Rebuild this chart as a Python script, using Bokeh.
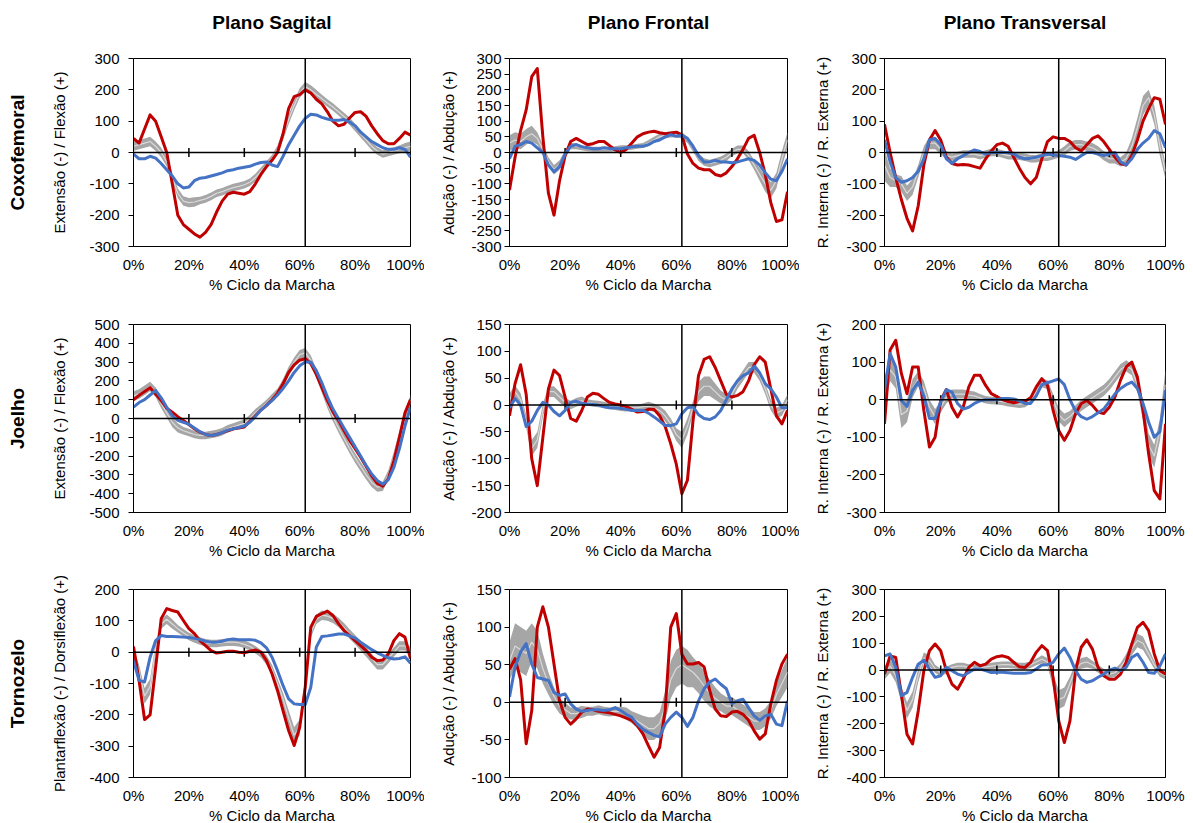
import numpy as np
from bokeh.plotting import figure
from bokeh.models import Range1d, FixedTicker, LinearAxis, Span
from bokeh.layouts import column, row
from bokeh.embed import file_html
from bokeh.resources import INLINE

# ---------------- data ----------------
gait_pct = list(range(0, 101, 2))
x_ticks = [0, 20, 40, 60, 80, 100]
x_tick_labels = ["0%", "20%", "40%", "60%", "80%", "100%"]
zero_axis_ticks = [20, 40, 60, 80]
toe_off_pct = 62

plane_titles = ["Plano Sagital", "Plano Frontal", "Plano Transversal"]
joint_names = ["Coxofemoral", "Joelho", "Tornozelo"]
y_axis_titles = [
    ["Extensão (-) / Flexão (+)", "Adução (-) / Abdução (+)", "R. Interna (-) / R. Externa (+)"],
    ["Extensão (-) / Flexão (+)", "Adução (-) / Abdução (+)", "R. Interna (-) / R. Externa (+)"],
    ["Plantarflexão (-) / Dorsiflexão (+)", "Adução (-) / Abdução (+)", "R. Interna (-) / R. Externa (+)"],
]
y_limits = [
    [(-300, 300), (-300, 300), (-300, 300)],
    [(-500, 500), (-200, 150), (-300, 200)],
    [(-400, 200), (-100, 150), (-400, 300)],
]
y_steps = [[100, 50, 100], [100, 50, 100], [100, 50, 100]]

# Coxofemoral
hip_sag_red = [45,30,75,120,100,50,0,-100,-200,-230, -245,-260,-270,-255,-230,-190,-155,-133,-127,-130,
               -133,-125,-100,-70,-45,-25,0,60,140,178, 185,200,190,170,155,130,100,85,90,110,
               128,130,115,85,60,38,28,28,45,65, 55]
hip_sag_blue = [-5,-20,-20,-12,-18,-35,-55,-75,-100,-113, -110,-90,-82,-80,-75,-70,-65,-58,-55,-50,
                -47,-44,-37,-32,-30,-40,-45,-12,25,55, 85,109,122,120,112,107,103,103,105,97,
                85,65,50,35,25,15,10,10,15,10, -15]
hip_sag_mean = [20,25,30,35,20,0,-30,-80,-130,-155, -160,-158,-153,-148,-140,-130,-125,-118,-112,-108,
                -103,-95,-80,-60,-40,-20,10,55,105,150, 190,210,200,185,172,158,145,130,115,100,
                80,60,40,20,5,-5,0,5,10,15, 20]
hip_sag_sd = [15,15,15,15,15,15,15,15,15,15, 15,15,12,12,12,12,12,12,12,12,
              12,12,12,12,12,12,12,15,15,15, 15,15,15,15,12,12,12,12,12,12,
              12,12,12,12,12,12,12,12,12,15, 15]

hip_front_red = [-120,-15,70,136,242,268,50,-130,-200,-90, -10,35,45,35,25,28,35,35,22,8,
                 0,10,30,50,60,65,68,63,60,62, 65,55,-5,-35,-50,-55,-55,-70,-75,-65,
                 -45,-20,10,45,55,0,-70,-160,-220,-215, -125]
hip_front_blue = [-20,20,25,35,30,15,0,-40,-62,-45, -5,20,25,18,15,12,12,15,13,12,
                  12,15,18,20,20,25,35,40,50,57, 52,55,45,20,-10,-30,-30,-25,-30,-30,
                  -33,-30,-25,-20,-25,-40,-65,-85,-90,-60, -20]
hip_front_mean = [30,40,35,50,60,45,10,-30,-55,-40, -5,20,20,15,12,10,10,10,10,12,
                  15,15,17,20,22,30,40,50,55,58, 58,55,40,15,-15,-30,-35,-30,-25,-15,
                  0,10,10,-10,-40,-70,-100,-120,-90,-20, 40]
hip_front_sd = [25,25,25,25,25,20,15,15,15,15, 12,10,10,8,8,8,8,8,8,8,
                8,8,8,8,8,10,10,10,10,10, 10,10,10,12,12,12,12,12,12,12,
                12,12,12,15,15,20,25,25,25,25, 25]

hip_trans_red = [90,0,-80,-150,-210,-250,-170,-40,40,70, 40,-14,-35,-40,-38,-40,-45,-50,-20,5,
                 25,30,20,-15,-50,-80,-100,-80,-20,35, 50,45,45,35,15,5,25,45,53,35,
                 10,-15,-35,-40,-10,40,100,140,175,170, 90]
hip_trans_blue = [40,-30,-80,-95,-90,-80,-60,-20,40,45, 25,-20,-35,-20,-10,0,8,3,-5,0,
                  0,0,0,-5,-15,-20,-18,-15,-10,-5, -8,-10,-12,-15,-22,-10,0,0,-5,-10,
                  -5,0,-30,-40,-20,10,30,45,70,60, 15]
hip_trans_mean = [-40,-80,-90,-100,-130,-110,-60,0,30,30, 10,-10,-15,-10,-5,-5,-5,-10,-5,0,
                  0,-5,-10,-10,-12,-15,-20,-20,-15,-15, -10,-5,5,20,25,25,20,15,5,-10,
                  -20,-20,-30,-20,20,80,150,175,120,20, -60]
hip_trans_sd = [50,30,20,25,25,25,20,20,20,20, 15,15,12,12,12,12,12,12,12,12,
                12,12,12,12,12,12,12,12,12,12, 12,12,15,15,15,15,15,15,15,15,
                15,15,15,20,25,30,30,25,30,30, 25]

# Joelho
knee_sag_red = [100,123,144,164,130,95,55,34,10,-10, -32,-55,-73,-85,-90,-85,-75,-65,-55,-50,
                -45,-15,15,45,70,100,135,185,245,285, 310,318,292,235,165,95,35,-10,-65,-117,
                -160,-206,-255,-305,-345,-360,-320,-224,-100,30, 100]
knee_sag_blue = [60,85,100,125,150,110,60,15,-10,-20, -30,-50,-70,-85,-90,-85,-75,-62,-55,-48,
                 -40,-20,10,45,70,95,125,160,200,245, 280,300,300,255,190,115,50,0,-50,-100,
                 -150,-200,-250,-295,-330,-350,-325,-260,-160,-40, 60]
knee_sag_mean = [120,130,150,170,140,80,30,-20,-50,-65, -75,-85,-90,-90,-85,-80,-70,-55,-45,-35,
                 -25,0,30,55,80,110,140,190,250,300, 340,350,310,240,160,80,10,-50,-105,-160,
                 -210,-255,-300,-340,-365,-360,-300,-200,-90,20, 100]
knee_sag_sd = [25,25,25,25,25,25,25,25,25,20, 20,20,20,20,20,20,20,20,20,20,
               20,20,20,20,20,20,20,20,25,25, 25,25,25,25,25,25,25,25,25,25,
               25,25,25,25,25,25,25,25,25,25, 25]

knee_front_red = [-20,40,75,20,-100,-150,-60,30,65,55, 15,-25,-30,-10,15,22,20,12,5,2,
                  0,-3,-8,-13,-12,-8,-8,-20,-40,-72, -110,-165,-140,-30,55,85,90,70,45,20,
                  15,18,25,45,75,90,80,30,-20,-35, -10]
knee_front_blue = [-5,12,0,-40,-30,-10,5,0,-12,-20, -10,5,7,3,2,1,0,-3,-5,-5,
                   -6,-8,-10,-10,-10,-15,-22,-30,-38,-38, -35,-16,-5,-3,-18,-25,-27,-22,-10,10,
                   30,45,55,60,72,60,40,30,15,-5, -5]
knee_front_mean = [10,25,10,-30,-80,-65,-10,25,25,15, 5,0,5,8,5,3,2,0,-2,-3,
                   -5,-6,-5,-5,-3,-2,-5,-10,-20,-35, -55,-65,-40,-5,25,35,35,25,15,10,
                   20,40,55,70,70,55,30,0,-15,-10, 10]
knee_front_sd = [12,12,12,12,15,15,12,10,10,10, 8,8,8,8,6,6,6,6,6,6,
                 6,6,6,6,6,8,8,8,10,10, 12,15,15,12,18,18,18,15,12,10,
                 10,10,10,10,10,10,10,10,10,10, 10]

knee_trans_red = [-64,132,158,70,16,87,87,-28,-126,-100, -2,27,-20,-46,-20,34,65,65,38,16,
                  8,0,-5,-8,-5,-4,5,34,56,38, -28,-82,-108,-82,-37,-11,-2,-15,-33,-37,
                  -20,7,52,87,100,60,-28,-144,-242,-264, -64]
knee_trans_blue = [25,123,87,-2,-18,25,47,10,-50,-50, -5,27,20,-10,-25,-20,-10,-3,0,0,
                   0,3,3,2,-3,-10,-10,10,40,45, 50,55,40,0,-30,-45,-52,-45,-35,-25,
                   -5,15,30,40,47,30,-10,-60,-100,-85, 25]
knee_trans_mean = [20,80,60,-40,-30,30,55,30,-20,-45, -20,5,15,15,15,12,10,5,0,-2,
                   -3,-5,-8,-10,-12,-10,0,20,45,40, 0,-40,-55,-45,-30,-15,-5,5,15,25,
                   40,60,80,90,80,40,-30,-120,-150,-80, 40]
knee_trans_sd = [40,30,30,35,30,25,20,20,20,20, 15,15,12,12,12,12,12,10,10,10,
                 10,10,10,10,10,10,10,12,12,12, 15,18,18,15,15,15,15,15,15,15,
                 15,15,15,15,15,20,25,30,30,30, 40]

# Tornozelo
ankle_sag_red = [18,-90,-215,-200,-48,107,139,133,128,101, 75,59,37,21,5,-3,0,3,3,0,
                 -2,3,7,0,-27,-69,-123,-187,-250,-298, -240,-112,80,114,123,131,117,91,69,53,
                 37,21,5,-16,-27,-25,-5,37,59,48, -21]
ankle_sag_blue = [-27,-90,-95,-16,37,53,50,50,49,48, 47,44,40,35,32,32,35,40,42,40,
                  40,40,38,30,14,-16,-59,-107,-149,-165, -167,-167,-112,16,50,52,55,58,58,52,
                  45,32,20,8,-2,-10,-18,-22,-20,-15, -35]
ankle_sag_mean = [0,-60,-140,-110,10,90,105,90,75,62, 50,42,36,30,28,28,30,32,32,30,
                  25,18,8,-5,-25,-55,-100,-150,-210,-265, -240,-100,60,105,118,115,108,95,78,58,
                  40,20,0,-20,-40,-40,-20,0,20,20, 0]
ankle_sag_sd = [15,20,25,25,20,15,15,15,12,12, 12,12,12,12,12,12,12,12,12,12,
                12,12,12,12,15,15,15,20,25,25, 25,20,15,15,15,15,15,15,15,15,
                15,15,15,15,15,15,15,15,15,15, 15]

ankle_front_red = [44,58,30,-55,-11,100,127,100,51,2, -20,-29,-22,-13,-9,-10,-12,-13,-14,-16,
                   -18,-21,-24,-31,-42,-58,-73,-60,-11,100, 118,64,51,51,53,47,16,-9,-18,-19,
                   -13,-12,-16,-24,-38,-49,-42,-2,29,51, 64]
ankle_front_blue = [7,47,67,78,51,33,31,29,13,9, 11,-2,-9,-12,-11,-10,-10,-11,-10,-7,
                    -11,-16,-20,-29,-36,-40,-44,-46,-29,-20, -13,-20,-32,-20,2,18,27,31,24,18,
                    -2,2,4,-7,-18,-24,-18,-16,-29,-31, 2]
ankle_front_mean = [55,75,70,65,80,70,45,25,8,-5, -10,-15,-15,-13,-12,-12,-10,-12,-13,-12,
                    -12,-15,-20,-25,-30,-35,-35,-28,-5,30, 45,50,45,40,32,22,12,5,0,-5,
                    -5,-10,-15,-20,-25,-25,-20,-10,10,25, 40]
ankle_front_sd = [25,30,30,30,25,25,20,15,12,10, 10,8,8,8,6,6,6,6,6,6,
                  6,8,8,10,12,15,15,15,20,25, 25,25,25,20,20,20,18,15,12,12,
                  12,12,12,12,12,12,12,12,15,18, 20]

ankle_trans_red = [-15,53,47,-90,-239,-275,-152,-2,72,97, 72,-2,-52,-71,-34,10,29,16,22,41,
                   50,53,47,29,12,10,29,66,91,72, -27,-189,-270,-189,-2,85,113,78,10,-21,
                   -34,-34,-15,29,97,159,178,147,60,-2, -15]
ankle_trans_blue = [53,60,10,-95,-83,-27,22,37,4,-27, -21,10,-2,-15,-21,-9,4,4,-2,-9,
                    -8,-8,-10,-12,-12,-12,-9,4,19,20, 29,60,82,47,-2,-34,-46,-40,-27,-15,
                    0,7,-2,10,47,60,29,-9,-12,16, 60]
ankle_trans_mean = [-10,15,-20,-90,-150,-110,-20,45,35,5, -10,0,10,15,15,10,8,10,12,15,
                    18,20,20,18,15,15,20,30,40,30, -40,-110,-100,-50,5,25,30,20,5,-10,
                    -15,-10,10,40,80,110,100,60,20,-10, -20]
ankle_trans_sd = [25,25,25,30,30,30,25,20,20,15, 15,12,12,12,12,12,12,12,12,12,
                  12,12,12,12,12,12,12,12,15,15, 25,35,35,25,20,20,20,15,15,15,
                  15,15,15,20,25,25,25,20,15,15, 15]

panel_data = [
    [(hip_sag_red, hip_sag_blue, hip_sag_mean, hip_sag_sd),
     (hip_front_red, hip_front_blue, hip_front_mean, hip_front_sd),
     (hip_trans_red, hip_trans_blue, hip_trans_mean, hip_trans_sd)],
    [(knee_sag_red, knee_sag_blue, knee_sag_mean, knee_sag_sd),
     (knee_front_red, knee_front_blue, knee_front_mean, knee_front_sd),
     (knee_trans_red, knee_trans_blue, knee_trans_mean, knee_trans_sd)],
    [(ankle_sag_red, ankle_sag_blue, ankle_sag_mean, ankle_sag_sd),
     (ankle_front_red, ankle_front_blue, ankle_front_mean, ankle_front_sd),
     (ankle_trans_red, ankle_trans_blue, ankle_trans_mean, ankle_trans_sd)],
]
for rr in panel_data:
    for cc in rr:
        for arr in cc:
            assert len(arr) == len(gait_pct), len(arr)

# ---------------- style / layout ----------------
FONT = "Liberation Sans"
RED = "#C00000"
BLUE = "#4472C4"
BAND = "#A6A6A6"
BAND_MID = "#D9D9D9"

frame_w = [277, 278, 281]
frame_h = 188
border_left = [133, 85, 85]
border_right = [14, 12, 20]
border_top = [58, 20, 20]
border_bottom = [58, 57, 45]
ylab_standoff = [9, 3, 3]
ytitle_standoff = [18, 11, 12]


def label_axis(text, standoff):
    return LinearAxis(axis_label=text, ticker=FixedTicker(ticks=[]),
                      axis_line_color=None, major_tick_line_color=None,
                      minor_tick_line_color=None, major_tick_out=0, major_tick_in=0,
                      minor_tick_out=0, minor_tick_in=0, major_label_standoff=0,
                      axis_label_standoff=standoff, axis_label_text_font=FONT,
                      axis_label_text_font_size="19px",
                      axis_label_text_font_style="bold",
                      axis_label_text_color="black")


def make_panel(r, c):
    red, blue, mean, sd = panel_data[r][c]
    lo, hi = y_limits[r][c]
    p = figure(frame_width=frame_w[c], frame_height=frame_h,
               x_range=Range1d(0, 100), y_range=Range1d(lo, hi),
               output_backend="svg", toolbar_location=None, title=None,
               min_border_left=border_left[c], min_border_right=border_right[c],
               min_border_top=border_top[r], min_border_bottom=border_bottom[r],
               background_fill_color="white", border_fill_color="white")
    p.outline_line_color = "black"
    p.outline_line_width = 1
    p.xgrid.visible = False
    p.ygrid.visible = False

    m = np.array(mean, dtype=float)
    s = np.array(sd, dtype=float)
    p.varea(x=gait_pct, y1=m - s, y2=m + s, fill_color=BAND)
    p.line(x=gait_pct, y=mean, line_color=BAND_MID, line_width=1.2)

    p.add_layout(Span(location=0, dimension="width", line_color="black", line_width=1.5))
    p.add_layout(Span(location=toe_off_pct, dimension="height", line_color="black", line_width=1.5))
    p.scatter(x=zero_axis_ticks, y=[0] * len(zero_axis_ticks), marker="dash",
              angle=np.pi / 2, size=9, line_color="black", line_width=1.5)

    p.line(x=gait_pct, y=red, line_color=RED, line_width=3, line_join="round")
    p.line(x=gait_pct, y=blue, line_color=BLUE, line_width=3, line_join="round")

    xa = p.xaxis[0]
    xa.ticker = FixedTicker(ticks=x_ticks)
    xa.major_label_overrides = dict(zip(x_ticks, x_tick_labels))
    xa.major_tick_out = 0
    xa.major_tick_in = 0
    xa.major_tick_line_color = None
    xa.minor_tick_line_color = None
    xa.major_label_standoff = 9
    xa.axis_label = "% Ciclo da Marcha"
    xa.axis_label_standoff = 0
    xa.axis_line_color = "black"

    ticks = list(range(lo, hi + 1, y_steps[r][c]))
    ya = p.yaxis[0]
    ya.ticker = FixedTicker(ticks=ticks)
    ya.major_label_overrides = {t: str(t) for t in ticks}
    ya.major_tick_out = 5
    ya.major_tick_in = 0
    ya.minor_tick_line_color = None
    ya.major_tick_line_color = "black"
    ya.major_label_standoff = ylab_standoff[c]
    ya.axis_label = y_axis_titles[r][c]
    ya.axis_label_standoff = ytitle_standoff[c]
    ya.axis_line_color = "black"

    for ax in (xa, ya):
        ax.major_label_text_font = FONT
        ax.major_label_text_font_size = "15px"
        ax.major_label_text_color = "black"
        ax.axis_label_text_font = FONT
        ax.axis_label_text_font_size = "15px"
        ax.axis_label_text_font_style = "normal"
        ax.axis_label_text_color = "black"

    if r == 0:
        p.add_layout(label_axis(plane_titles[c], 26), "above")
    if c == 0:
        p.add_layout(label_axis(joint_names[r], 21), "left")
    return p


rows = [row(*[make_panel(r, c) for c in range(3)]) for r in range(3)]
layout = column(*rows)

open("out.html", "w").write(file_html(layout, INLINE, "Ciclo da Marcha"))
